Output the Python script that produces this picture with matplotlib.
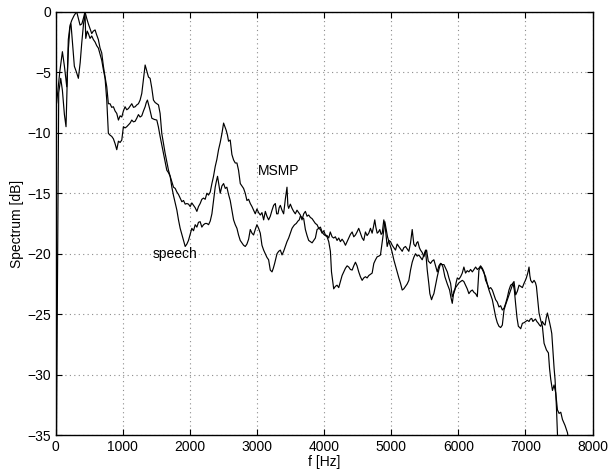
import numpy as np
import matplotlib
matplotlib.use("Agg")
import matplotlib.pyplot as plt

plt.rcParams['font.family'] = ['Liberation Sans', 'DejaVu Sans']

# (frequency in Hz, level in dB)
msmp = [
    (0, -8.0), (15, -7.5), (60, -5.0), (100, -3.3), (130, -4.5), (165, -6.2), (190, -3.0),
    (215, -1.1), (240, -0.7), (275, -0.3), (313, 0.0), (340, -0.6), (363, -1.1), (390, -1.0),
    (415, -0.5), (437, 0.0), (465, -0.6), (487, -1.0), (512, -1.4), (537, -1.8), (560, -1.6),
    (587, -1.5), (610, -1.9), (636, -2.3), (661, -3.0), (686, -3.4), (711, -4.5), (736, -5.4),
    (761, -6.2), (785, -7.6), (810, -7.6), (835, -7.9), (860, -7.85), (885, -8.2), (910, -8.4),
    (935, -8.95), (960, -8.6), (985, -8.7), (1009, -8.2), (1034, -7.85), (1059, -8.1),
    (1084, -8.0), (1109, -7.8), (1134, -7.6), (1159, -7.9), (1184, -7.85), (1208, -7.7),
    (1233, -7.6), (1258, -7.3), (1283, -6.75), (1308, -5.6), (1333, -4.4), (1358, -4.9),
    (1383, -5.4), (1407, -5.5), (1432, -6.3), (1457, -7.3), (1482, -7.5), (1507, -7.6),
    (1532, -7.7), (1556, -8.4), (1581, -10.05), (1606, -10.9), (1631, -11.7), (1656, -12.4),
    (1681, -13.1), (1706, -13.6), (1731, -14.05), (1756, -14.5), (1781, -14.6), (1806, -14.9),
    (1830, -15.1), (1855, -15.4), (1880, -15.7), (1905, -15.6), (1930, -15.9), (1955, -15.85),
    (1979, -15.9), (2004, -16.1), (2029, -15.8), (2054, -16.0), (2079, -16.2), (2104, -16.5),
    (2128, -16.1), (2153, -15.85), (2178, -15.5), (2203, -15.4), (2228, -15.5), (2253, -15.0),
    (2278, -15.15), (2303, -14.9), (2328, -14.2), (2352, -13.6), (2377, -12.8), (2402, -12.2),
    (2427, -11.4), (2452, -10.8), (2478, -10.05), (2502, -9.2), (2521, -9.5), (2541, -9.8),
    (2560, -10.2), (2576, -10.7), (2601, -10.6), (2626, -11.8), (2651, -12.25), (2676, -12.5),
    (2701, -12.5), (2725, -13.1), (2751, -14.2), (2775, -14.4), (2800, -14.6), (2825, -15.0),
    (2850, -15.6), (2875, -15.5), (2900, -15.85), (2925, -16.1), (2949, -16.4), (2974, -16.7),
    (2999, -16.3), (3024, -16.6), (3049, -16.8), (3074, -16.6), (3099, -17.2), (3124, -16.5),
    (3148, -16.9), (3173, -17.2), (3198, -16.9), (3224, -16.4), (3248, -16.0), (3273, -15.85),
    (3293, -16.7), (3313, -16.7), (3330, -16.2), (3348, -16.0), (3372, -16.4), (3397, -16.7),
    (3422, -15.5), (3447, -14.5), (3460, -16.0), (3472, -16.25), (3497, -15.9), (3522, -16.25),
    (3546, -16.5), (3571, -16.7), (3596, -16.4), (3621, -16.6), (3646, -16.8), (3671, -17.2),
    (3696, -16.7), (3721, -16.5), (3746, -16.9), (3770, -16.8), (3795, -17.0), (3821, -17.1),
    (3845, -17.3), (3870, -17.5), (3895, -17.6), (3920, -17.9), (3945, -18.0), (3970, -18.3),
    (3995, -18.1), (4019, -18.45), (4044, -18.5), (4069, -18.7), (4092, -18.2), (4119, -18.6),
    (4143, -18.7), (4168, -18.6), (4193, -18.9), (4218, -18.7), (4243, -19.0), (4268, -18.8),
    (4293, -19.0), (4318, -19.3), (4343, -19.0), (4367, -18.7), (4392, -18.4), (4418, -18.2),
    (4442, -18.6), (4467, -18.45), (4491, -18.2), (4516, -17.9), (4541, -18.3), (4567, -18.7),
    (4591, -18.9), (4616, -18.2), (4641, -18.5), (4666, -18.3), (4691, -17.9), (4716, -18.3),
    (4735, -17.8), (4755, -17.2), (4771, -17.8), (4791, -18.3), (4810, -18.2), (4830, -18.0),
    (4850, -18.4), (4866, -18.3), (4890, -17.2), (4915, -18.0), (4940, -19.4), (4964, -18.9),
    (4990, -19.0), (5015, -19.3), (5039, -19.5), (5064, -19.7), (5089, -19.2), (5113, -19.4),
    (5139, -19.6), (5164, -19.8), (5188, -19.5), (5213, -19.4), (5238, -19.6), (5263, -19.8),
    (5288, -19.1), (5313, -18.0), (5337, -19.2), (5362, -19.4), (5380, -19.1), (5397, -19.0),
    (5420, -19.5), (5437, -19.7), (5462, -19.9), (5487, -20.25), (5507, -19.9), (5527, -19.7),
    (5552, -20.6), (5586, -20.8), (5611, -20.6), (5636, -20.5), (5661, -21.0), (5686, -21.5),
    (5711, -21.0), (5736, -20.8), (5761, -20.9), (5786, -20.9), (5811, -21.2), (5836, -21.5),
    (5860, -22.0), (5885, -22.45), (5910, -23.55), (5930, -23.3), (5949, -23.0), (5967, -22.4),
    (5985, -22.0), (6010, -22.1), (6034, -21.9), (6059, -21.6), (6083, -21.1), (6108, -21.6),
    (6133, -21.4), (6158, -21.5), (6183, -21.3), (6209, -21.5), (6234, -21.3), (6258, -21.1),
    (6283, -21.3), (6307, -21.2), (6332, -21.0), (6358, -21.2), (6382, -21.5), (6407, -22.2),
    (6432, -22.5), (6457, -22.9), (6482, -22.8), (6507, -23.0), (6531, -23.4), (6556, -23.8),
    (6581, -24.0), (6606, -24.4), (6631, -24.3), (6656, -24.65), (6681, -24.5), (6706, -24.1),
    (6731, -23.6), (6755, -23.0), (6780, -22.6), (6805, -22.5), (6830, -22.3), (6855, -23.4),
    (6880, -23.1), (6905, -22.6), (6930, -22.7), (6955, -22.8), (6979, -22.45), (7000, -22.2),
    (7014, -22.0), (7035, -21.6), (7054, -21.1), (7066, -21.8), (7079, -22.2), (7104, -22.4),
    (7129, -22.2), (7150, -22.4), (7164, -22.7), (7179, -23.55), (7203, -24.9), (7228, -25.5),
    (7253, -26.0), (7278, -27.4), (7313, -27.95), (7343, -28.2), (7360, -29.5), (7378, -30.4),
    (7403, -31.3), (7427, -30.85), (7452, -31.5), (7477, -32.9), (7502, -33.2), (7527, -33.1),
    (7552, -33.7), (7591, -34.2), (7627, -34.8), (7660, -36.0), (7700, -38.0),
]

speech = [
    (0, -45.0), (45, -6.7), (75, -5.5), (100, -6.5), (130, -8.5), (154, -9.5), (170, -6.0),
    (188, -2.3), (210, -1.3), (228, -1.0), (250, -2.5), (278, -4.5), (310, -5.0), (338, -5.5),
    (365, -4.2), (388, -2.6), (415, -1.0), (437, -0.1), (448, -2.2), (470, -1.6), (487, -1.8),
    (512, -2.2), (537, -2.0), (562, -2.3), (587, -2.5), (611, -2.8), (636, -3.0), (661, -3.5),
    (686, -4.0), (711, -4.8), (736, -5.5), (761, -7.3), (785, -10.05), (810, -10.2),
    (835, -10.3), (860, -10.5), (885, -10.9), (910, -11.4), (935, -10.7), (960, -10.8),
    (985, -10.6), (1009, -9.5), (1034, -9.6), (1059, -9.5), (1084, -9.35), (1109, -9.2),
    (1134, -8.95), (1159, -9.1), (1184, -9.05), (1208, -8.8), (1233, -8.5), (1258, -8.7),
    (1283, -8.6), (1308, -8.2), (1333, -7.85), (1350, -7.5), (1367, -7.3), (1400, -8.0),
    (1433, -8.8), (1470, -8.9), (1507, -8.95), (1530, -9.5), (1556, -10.3), (1581, -11.0),
    (1606, -11.7), (1631, -12.4), (1656, -13.1), (1681, -13.3), (1706, -13.6), (1731, -14.5),
    (1756, -15.2), (1781, -15.8), (1806, -16.4), (1830, -17.2), (1855, -17.9), (1880, -18.4),
    (1905, -18.9), (1930, -19.4), (1955, -19.2), (1979, -18.9), (2004, -18.4), (2029, -17.9),
    (2054, -18.1), (2079, -17.6), (2104, -17.8), (2128, -17.4), (2153, -17.35), (2178, -17.8),
    (2203, -17.6), (2228, -17.5), (2253, -17.5), (2278, -17.6), (2303, -17.3), (2328, -16.7),
    (2352, -15.6), (2377, -14.5), (2395, -14.0), (2412, -13.6), (2432, -14.3), (2452, -15.0),
    (2477, -14.4), (2502, -14.2), (2527, -14.6), (2551, -14.5), (2576, -15.1), (2601, -15.6),
    (2626, -16.4), (2651, -17.2), (2676, -17.6), (2701, -17.9), (2725, -18.45), (2750, -18.9),
    (2776, -19.1), (2800, -19.3), (2825, -19.4), (2850, -19.2), (2875, -18.8), (2900, -18.0),
    (2925, -18.3), (2949, -18.45), (2974, -18.0), (2999, -17.6), (3024, -17.9), (3049, -18.3),
    (3074, -19.3), (3099, -19.7), (3124, -20.0), (3148, -20.3), (3173, -20.5), (3198, -21.35),
    (3224, -21.5), (3243, -21.2), (3263, -20.8), (3280, -20.4), (3298, -20.0), (3323, -19.8),
    (3348, -19.7), (3373, -20.1), (3397, -19.8), (3422, -19.4), (3447, -19.0), (3472, -18.7),
    (3497, -18.3), (3522, -17.9), (3546, -17.7), (3561, -17.6), (3585, -17.5), (3610, -17.3),
    (3630, -17.2), (3646, -16.9), (3671, -17.0), (3696, -17.1), (3721, -18.0), (3746, -18.5),
    (3770, -18.9), (3795, -19.0), (3821, -19.1), (3845, -18.9), (3870, -18.7), (3895, -18.0),
    (3920, -17.9), (3945, -17.8), (3970, -18.2), (3995, -18.4), (4019, -18.5), (4044, -18.6),
    (4069, -19.0), (4094, -19.8), (4110, -21.5), (4143, -22.9), (4168, -22.7), (4193, -22.6),
    (4218, -22.8), (4243, -22.3), (4268, -21.8), (4293, -21.5), (4318, -21.2), (4343, -21.0),
    (4367, -21.1), (4392, -21.3), (4418, -21.35), (4442, -21.0), (4467, -20.7), (4491, -21.0),
    (4516, -21.5), (4541, -21.9), (4567, -22.2), (4591, -22.0), (4616, -21.9), (4641, -22.0),
    (4666, -21.8), (4691, -21.7), (4716, -21.6), (4741, -20.8), (4766, -20.5), (4791, -20.25),
    (4816, -20.2), (4840, -20.1), (4860, -19.3), (4880, -18.45), (4905, -17.35), (4925, -18.0),
    (4945, -18.6), (4966, -19.0), (4990, -19.4), (5015, -19.9), (5039, -20.5), (5064, -21.0),
    (5089, -21.5), (5114, -22.0), (5139, -22.45), (5164, -23.0), (5188, -22.9), (5213, -22.7),
    (5238, -22.5), (5263, -22.2), (5288, -21.35), (5313, -20.7), (5337, -20.3), (5362, -20.0),
    (5387, -20.2), (5412, -20.1), (5437, -20.3), (5462, -20.5), (5487, -20.1), (5512, -19.7),
    (5537, -21.35), (5561, -22.5), (5576, -23.3), (5601, -23.8), (5620, -23.5), (5636, -23.3),
    (5661, -22.6), (5686, -21.9), (5711, -21.3), (5736, -20.8), (5755, -20.9), (5771, -21.1),
    (5786, -21.5), (5800, -21.9), (5836, -22.5), (5870, -23.0), (5890, -23.6), (5910, -24.1),
    (5934, -23.1), (5960, -22.8), (5985, -22.6), (6010, -22.4), (6034, -22.3), (6059, -22.2),
    (6083, -22.3), (6108, -22.6), (6133, -22.9), (6158, -23.3), (6183, -23.1), (6209, -23.0),
    (6234, -23.2), (6258, -23.3), (6283, -23.55), (6295, -22.5), (6307, -21.35), (6332, -21.1),
    (6358, -21.3), (6382, -21.6), (6407, -21.9), (6432, -22.5), (6457, -23.0), (6482, -23.4),
    (6507, -23.8), (6531, -24.5), (6556, -25.2), (6581, -25.7), (6606, -26.0), (6631, -26.1),
    (6656, -25.9), (6681, -24.65), (6706, -24.2), (6731, -23.8), (6755, -23.4), (6780, -23.0),
    (6800, -22.7), (6815, -22.45), (6835, -23.0), (6855, -24.2), (6875, -25.3), (6895, -26.0),
    (6915, -26.1), (6930, -26.2), (6955, -25.75), (6980, -25.7), (7004, -25.6), (7029, -25.5),
    (7054, -25.6), (7074, -25.4), (7094, -25.35), (7112, -25.6), (7129, -25.5), (7150, -25.4),
    (7170, -25.6), (7193, -25.75), (7210, -25.9), (7228, -26.0), (7253, -25.6), (7273, -25.8),
    (7293, -25.9), (7310, -25.3), (7328, -24.9), (7345, -25.3), (7363, -25.75), (7380, -26.2),
    (7393, -26.6), (7412, -28.2), (7428, -29.5), (7442, -30.4), (7462, -32.65), (7477, -34.8),
    (7490, -37.0), (7500, -40.0),
]

labels = [("MSMP", 3020, -13.2), ("speech", 1450, -20.0)]

x_ticks = np.arange(0, 8001, 1000)
y_ticks = np.arange(-35, 1, 5)

fig = plt.figure(figsize=(6.14, 4.71), dpi=100)
ax = fig.add_axes([0.0907, 0.076, 0.8743, 0.899])

for series in (msmp, speech):
    arr = np.array(series)
    ax.plot(arr[:, 0], arr[:, 1], color='black', linewidth=0.85)

for txt, x, y in labels:
    ax.text(x, y, txt, fontsize=10, ha='left', va='center')

ax.set_xlim(0, 8000)
ax.set_ylim(-35, 0)
ax.set_xticks(x_ticks)
ax.set_yticks(y_ticks)
ax.grid(True, linestyle=(0, (1, 3)), color='0.55', linewidth=0.8)
ax.tick_params(direction='in', top=True, right=True, labelsize=10, length=4)
for s in ax.spines.values():
    s.set_linewidth(1.0)
ax.set_xlabel('f [Hz]', fontsize=10, labelpad=1)
ax.set_ylabel('Spectrum [dB]', fontsize=10, labelpad=2)

fig.savefig('out.png', dpi=100)
